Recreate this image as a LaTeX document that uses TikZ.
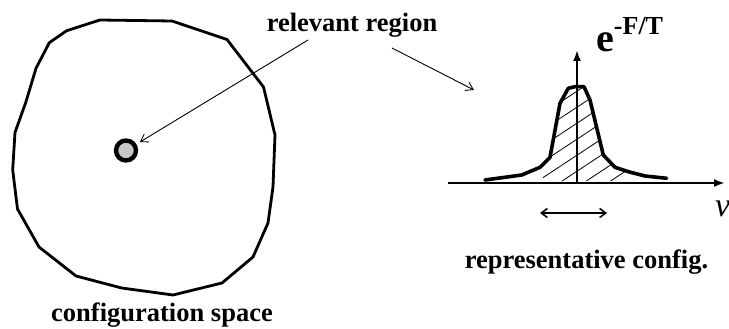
\documentclass[tikz,border=0pt]{standalone}
\usepackage{fontspec}
\setmainfont{Liberation Serif}
\usetikzlibrary{arrows.meta}
\begin{document}
\begin{tikzpicture}[x=1pt,y=-1pt,
  lbl/.style={font=\fontsize{26.5}{28}\selectfont\bfseries, inner sep=0pt},
  thick line/.style={line width=2.8pt, line join=round},
  curve line/.style={line width=3.6pt, line join=round, line cap=round},
  pointer/.style={line width=0.9pt, -{Straight Barb[length=7pt,width=9pt,line width=0.9pt]}},
  axis/.style={line width=2.6pt, -{Latex[length=11pt,width=8pt]}},
  span/.style={line width=1.6pt, {Straight Barb[length=6pt,width=9pt,line width=1.6pt]}-{Straight Barb[length=6pt,width=9pt,line width=1.6pt]}},
  hatch/.style={line width=0.8pt}]
\useasboundingbox (0,0) rectangle (729,329);

% configuration space outline
\draw[thick line] (100,20) -- (172,21) -- (227,39.5) -- (263.5,87) -- (275,135)
  -- (273,187) -- (268,223) -- (253,257) -- (222,283) -- (173,295) -- (121.7,288)
  -- (76,276) -- (39,247) -- (17.5,209) -- (12.7,170) -- (15,132.5) -- (26,101.7)
  -- (36,68.3) -- (49.3,42.7) -- (66.7,30.7) -- cycle;

% relevant region
\node[circle, draw, line width=4.4pt, fill=black!22, minimum size=20pt, inner sep=0pt] (reg) at (126,150.5) {};

% labels
\node[lbl, anchor=base] (rel) at (352,31.5) {relevant region};
\node[lbl, anchor=base] (cfg) at (162,321.5) {configuration space};
\node[lbl, anchor=base] (rep) at (586.5,268.3) {representative config.};

% pointers
\coordinate (p1) at (308,40);
\coordinate (p2) at (392,48);
\coordinate (p2end) at (474,90);
\draw[pointer, shorten >=4pt] (p1) -- (reg);
\draw[pointer] (p2) -- (p2end);

% axes
\coordinate (xa0) at (448,183);
\coordinate (xa1) at (725,183);
\coordinate (ya0) at (577,184);
\coordinate (ya1) at (577,50);
\draw[axis] (xa0) -- (xa1);
\draw[axis] (ya0) -- (ya1);

% hatching under the peak
\begin{scope}
  \clip (543,181) -- (543,170) -- (550,157.3) -- (560,103.3) -- (568.3,88.3) -- (575,86.7)
    -- (584,86.7) -- (590,100) -- (603.3,155) -- (615,167.3) -- (629,172) -- (629,181) -- cycle;
  \foreach \c in {472,488,504,520,536,552,568,584,600,616} {
    \draw[hatch] (530,\c-0.66*530) -- (640,\c-0.66*640);
  }
\end{scope}

% peak curve
\draw[curve line] (485,180) -- (521.7,175) -- (540,167.3) -- (550,157.3) -- (560,103.3)
  -- (568.3,88.3) -- (575,86.7) -- (584,86.7) -- (590,100) -- (603.3,155)
  -- (615,167.3) -- (628.3,171.7) -- (645,176) -- (666.7,178.3);

% axis labels
\node[inner sep=0pt, anchor=base west] (eft) at (596,52)
  {\fontsize{40}{40}\selectfont\bfseries e\raisebox{17pt}{\fontsize{26}{26}\selectfont\bfseries -F/T}};
\node[inner sep=0pt, anchor=base west] (nu) at (715,216) {\fontsize{34}{34}\selectfont\itshape ν};

% representative span
\coordinate (s0) at (540,213);
\coordinate (s1) at (607,213);
\draw[span] (s0) -- (s1);
\end{tikzpicture}
\end{document}
